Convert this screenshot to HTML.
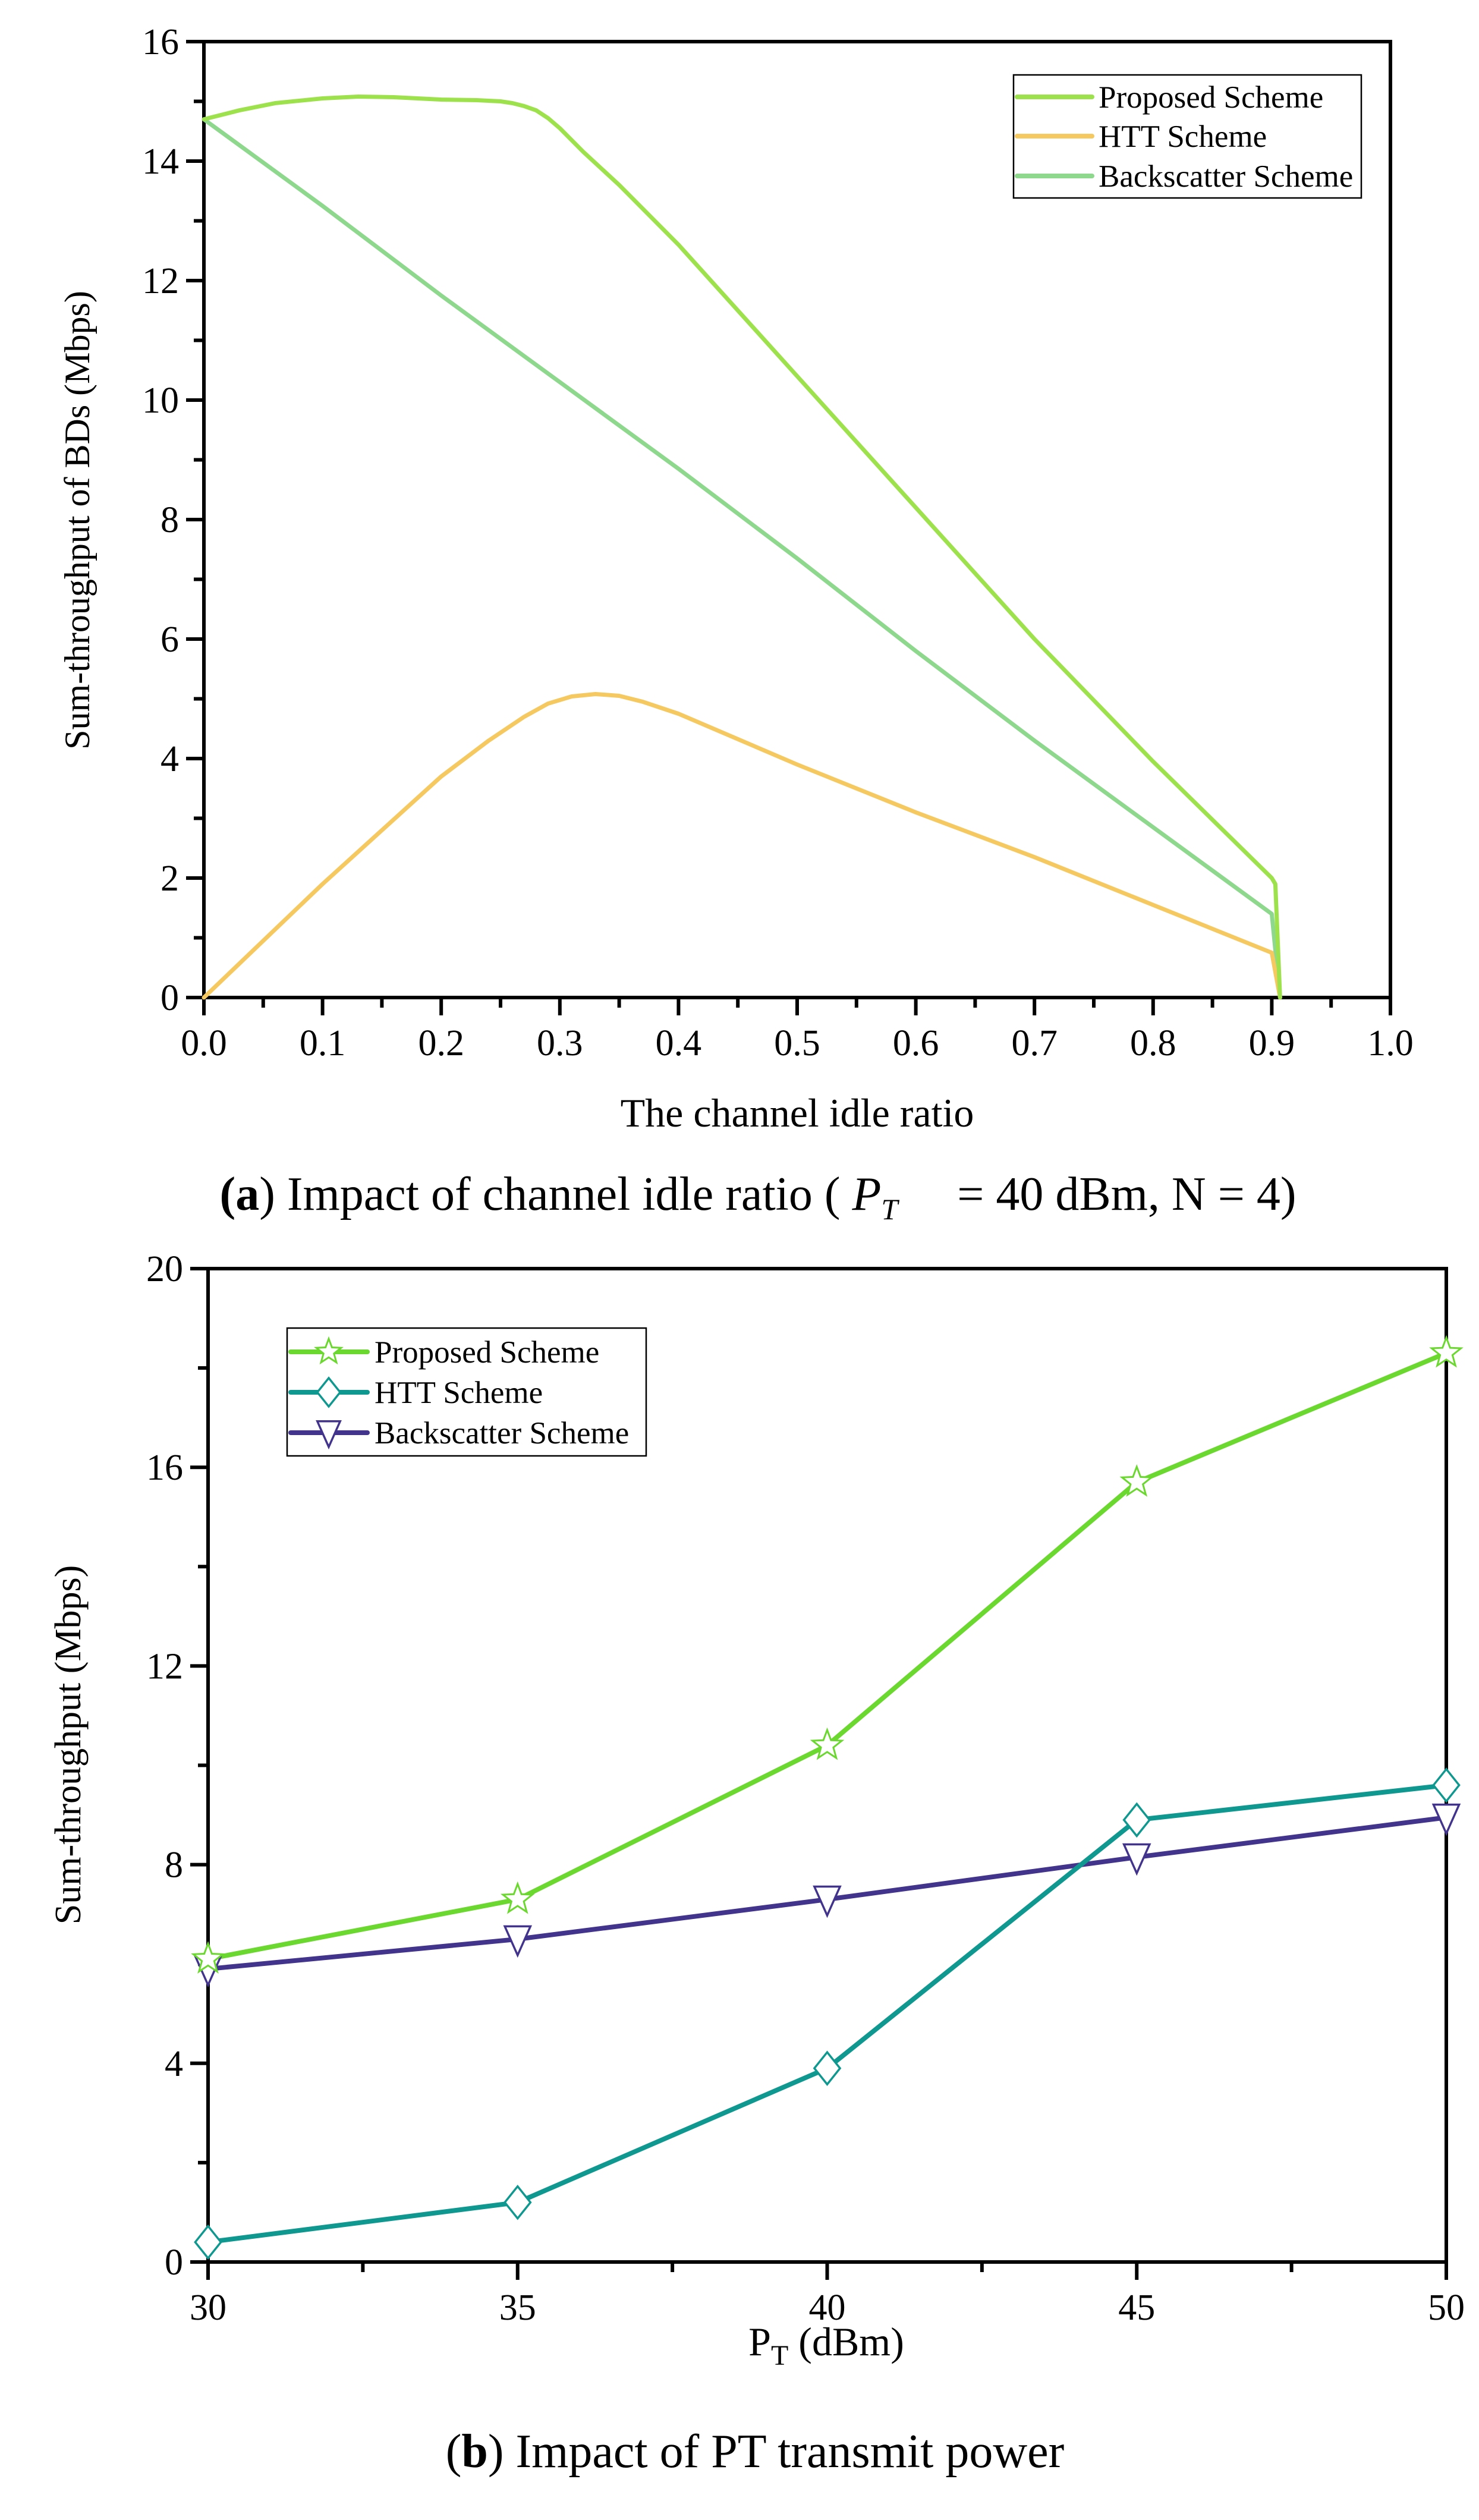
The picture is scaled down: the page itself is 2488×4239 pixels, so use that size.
<!DOCTYPE html>
<html><head><meta charset="utf-8"><style>
html,body{margin:0;padding:0;background:#fff}
svg{display:block}
text{font-family:"Liberation Serif",serif;fill:#000}
</style></head><body>
<svg id="fig" width="2488" height="4239" viewBox="0 0 2488 4239" xmlns="http://www.w3.org/2000/svg">
<g id="pa"></g>
<g id="pb"></g>
<text x="1341" y="1895" font-size="68" text-anchor="middle">The channel idle ratio</text>
<text transform="translate(150,875) rotate(-90)" font-size="60" text-anchor="middle">Sum-throughput of BDs (Mbps)</text>
<text x="1275" y="2035" font-size="80" text-anchor="middle" xml:space="preserve"><tspan font-weight="bold">(a</tspan>) Impact of channel idle ratio ( <tspan font-style="italic">P</tspan><tspan font-style="italic" font-size="50" dy="16">T</tspan><tspan dy="-16">     = 40 dBm, N = 4)</tspan></text>
<text x="1390" y="3962" font-size="68" text-anchor="middle">P<tspan font-size="48" dy="16">T</tspan><tspan dy="-16"> (dBm)</tspan></text>
<text transform="translate(135,2935) rotate(-90)" font-size="62" text-anchor="middle">Sum-throughput (Mbps)</text>
<text x="1270" y="4150" font-size="80" text-anchor="middle">(<tspan font-weight="bold">b</tspan>) Impact of PT transmit power</text>
</svg>
<script>
// Chart A data
const aXTicks=[0,0.1,0.2,0.3,0.4,0.5,0.6,0.7,0.8,0.9,1.0];
const aYTicks=[0,2,4,6,8,10,12,14,16];
const aPropX=[0,0.03,0.06,0.1,0.13,0.16,0.2,0.23,0.25,0.26,0.27,0.28,0.29,0.3,0.32,0.35,0.4,0.5,0.6,0.7,0.8,0.9,0.903,0.907];
const aPropY=[14.7,14.85,14.97,15.05,15.08,15.07,15.03,15.02,15.0,14.97,14.92,14.85,14.72,14.55,14.15,13.6,12.6,10.4,8.2,6.0,3.95,2.0,1.9,0];
const aHttX=[0,0.1,0.2,0.24,0.27,0.29,0.31,0.33,0.35,0.37,0.4,0.5,0.6,0.7,0.8,0.9,0.907];
const aHttY=[0,1.9,3.7,4.3,4.7,4.92,5.04,5.08,5.05,4.95,4.75,3.9,3.1,2.35,1.55,0.75,0];
const aBackX=[0,0.1,0.2,0.3,0.4,0.5,0.6,0.7,0.8,0.9,0.907];
const aBackY=[14.7,13.25,11.75,10.3,8.85,7.35,5.8,4.3,2.85,1.4,0];
// Chart B data
const bX=[30,35,40,45,50];
const bProp=[6.1,7.3,10.4,15.7,18.3];
const bHtt=[0.4,1.2,3.9,8.9,9.6];
const bBack=[5.9,6.5,7.3,8.15,8.95];
const bXTicks=[30,35,40,45,50];
const bYTicks=[0,4,8,12,16,20];

const NS="http://www.w3.org/2000/svg";
function mk(parent,tag,attrs){const e=document.createElementNS(NS,tag);for(const k in attrs)e.setAttribute(k,attrs[k]);parent.appendChild(e);return e;}

function axes(g,L,R,T,B,xmin,xmax,ymin,ymax,xt,yt,xfmt,prefix){
  const sx=v=>L+(v-xmin)/(xmax-xmin)*(R-L), sy=v=>B-(v-ymin)/(ymax-ymin)*(B-T);
  const fr=mk(g,'rect',{x:L,y:T,width:R-L,height:B-T,fill:'none',stroke:'#000','stroke-width':6});
  
  
  xt.forEach(v=>{
    mk(g,'line',{x1:sx(v),x2:sx(v),y1:B,y2:B+30,stroke:'#000','stroke-width':6});
    const t=mk(g,'text',{x:sx(v),y:B+97,'font-size':62,'text-anchor':'middle'});t.textContent=xfmt(v);
    
    
  });
  for(let i=0;i<xt.length-1;i++){const v=(xt[i]+xt[i+1])/2;mk(g,'line',{x1:sx(v),x2:sx(v),y1:B,y2:B+17,stroke:'#000','stroke-width':6});}
  yt.forEach(v=>{
    mk(g,'line',{x1:L-30,x2:L,y1:sy(v),y2:sy(v),stroke:'#000','stroke-width':6});
    const t=mk(g,'text',{x:L-42,y:sy(v)+21,'font-size':62,'text-anchor':'end'});t.textContent=v;
    
    
  });
  for(let i=0;i<yt.length-1;i++){const v=(yt[i]+yt[i+1])/2;mk(g,'line',{x1:L-17,x2:L,y1:sy(v),y2:sy(v),stroke:'#000','stroke-width':6});}
  return {sx,sy};
}
function line(g,xs,ys,s,color,w){
  return mk(g,'polyline',{points:xs.map((x,i)=>s.sx(x)+','+s.sy(ys[i])).join(' '),fill:'none',stroke:color,'stroke-width':w,'stroke-linejoin':'round','stroke-linecap':'round'});
}
function star(g,cx,cy,r,color){
  let pts=[];for(let i=0;i<10;i++){const a=-Math.PI/2+i*Math.PI/5;const rr=i%2?r*0.42:r;pts.push((cx+rr*Math.cos(a))+','+(cy+rr*Math.sin(a)));}
  return mk(g,'polygon',{points:pts.join(' '),fill:'#fff',stroke:color,'stroke-width':3});
}
function diamond(g,cx,cy,r,color){return mk(g,'polygon',{points:`${cx},${cy-r} ${cx+r*0.8},${cy} ${cx},${cy+r} ${cx-r*0.8},${cy}`,fill:'#fff',stroke:color,'stroke-width':3.5});}
function tri(g,cx,cy,r,color){return mk(g,'polygon',{points:`${cx-r*0.8},${cy-r*0.8} ${cx+r*0.8},${cy-r*0.8} ${cx},${cy+r}`,fill:'#fff',stroke:color,'stroke-width':3.5});}

// Chart A
const ga=document.getElementById('pa');
const sa=axes(ga,343,2339,70,1678,0,1,0,16,aXTicks,aYTicks,v=>v.toFixed(1),'a-');
const cP='#9de24c',cH='#f6c860',cB='#8ed88e';
let l;
l=line(ga,aBackX,aBackY,sa,cB,7);
l=line(ga,aHttX,aHttY,sa,cH,7);
l=line(ga,aPropX,aPropY,sa,cP,7);
const lga=mk(ga,'g',{});


mk(lga,'rect',{x:1705,y:126,width:585,height:207,fill:'#fff',stroke:'#000','stroke-width':2.5});
[['Proposed Scheme',cP,163],['HTT Scheme',cH,229],['Backscatter Scheme',cB,296]].forEach(([n,c,y])=>{
  const e=mk(lga,'g',{});
  
  
  mk(e,'line',{x1:1711,x2:1837,y1:y,y2:y,stroke:c,'stroke-width':8,'stroke-linecap':'round'});
  const t=mk(e,'text',{x:1848,y:y+18,'font-size':53});t.textContent=n;
});

// Chart B
const gb=document.getElementById('pb');
const sb=axes(gb,350,2433,2134,3805,30,50,0,20,bXTicks,bYTicks,v=>v,'b-');
const dP='#6ad82e',dH='#0f9890',dB='#42338c';
l=line(gb,bX,bBack,sb,dB,8);
l=line(gb,bX,bHtt,sb,dH,8);
l=line(gb,bX,bProp,sb,dP,8);
bX.forEach((x,i)=>{
  let m=tri(gb,sb.sx(x),sb.sy(bBack[i]),27,dB);
  
  
  m=diamond(gb,sb.sx(x),sb.sy(bHtt[i]),27,dH);
  
  
  m=star(gb,sb.sx(x),sb.sy(bProp[i]),26,dP);
  
  
});
const lgb=mk(gb,'g',{});


mk(lgb,'rect',{x:483,y:2234,width:604,height:215,fill:'#fff',stroke:'#000','stroke-width':2.5});
[['Proposed Scheme',dP,2274,'s'],['HTT Scheme',dH,2342,'d'],['Backscatter Scheme',dB,2410,'t']].forEach(([n,c,y,k])=>{
  const e=mk(lgb,'g',{});
  
  
  mk(e,'line',{x1:489,x2:618,y1:y,y2:y,stroke:c,'stroke-width':8,'stroke-linecap':'round'});
  if(k==='s')star(e,553,y,22,c);else if(k==='d')diamond(e,553,y,24,c);else tri(e,553,y,24,c);
  const t=mk(e,'text',{x:630,y:y+18,'font-size':53});t.textContent=n;
});
</script>
</body></html>
